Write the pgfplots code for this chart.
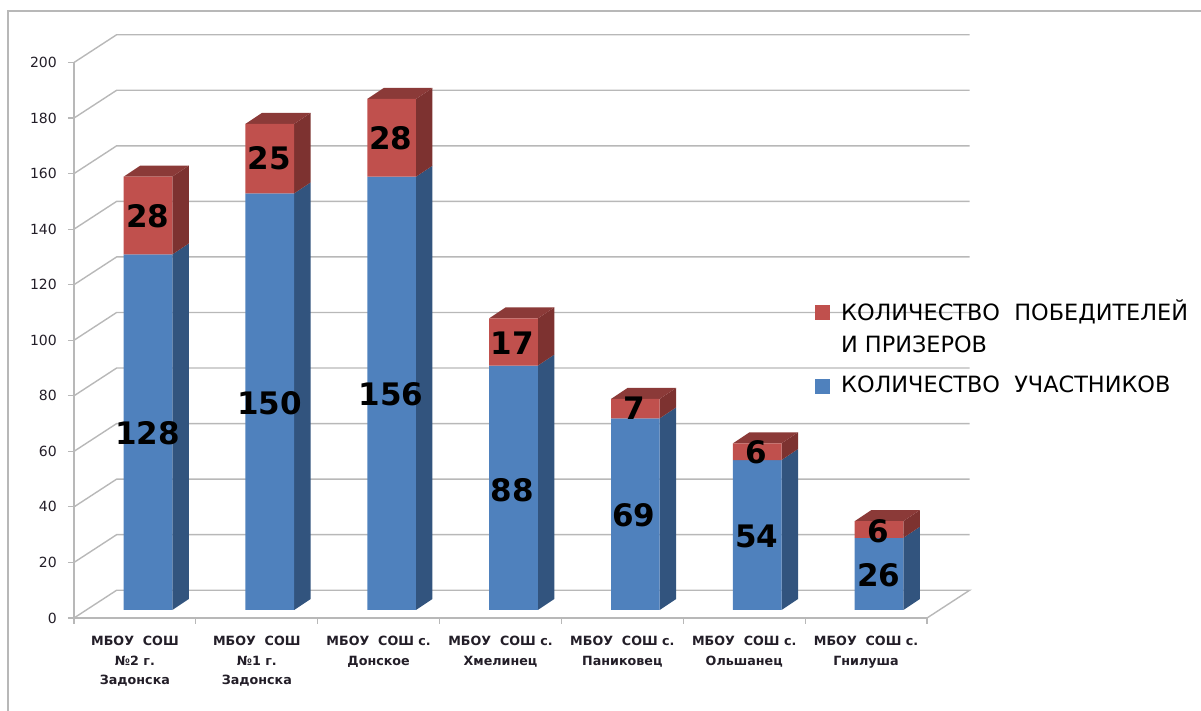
\documentclass[border=0pt]{standalone}
\usepackage{fontspec}
\setmainfont{DejaVu Sans}
\usepackage{pgfplots}
\pgfplotsset{compat=1.18}
\definecolor{wallgray}{RGB}{184,184,184}
\definecolor{bluefront}{RGB}{79,129,189}
\definecolor{blueside}{RGB}{50,84,126}
\definecolor{redfront}{RGB}{192,80,77}
\definecolor{redside}{RGB}{125,50,48}
\definecolor{redtop}{RGB}{139,58,56}
\definecolor{labeltext}{RGB}{35,30,40}

% side and top faces of one bar: category centre, blue value, red value
\newcommand{\barfaces}[3]{%
  \pgfmathsetmacro\xr{#1+0.3065}%
  \pgfmathsetmacro\xb{#1+0.3065+0.1354}%
  \pgfmathsetmacro\xl{#1+0.3065-0.3995}%
  \pgfmathsetmacro\xc{#1+0.3065-0.3995+0.1354}%
  \pgfmathsetmacro\ya{2.88}%
  \pgfmathsetmacro\yb{2.88+#2}%
  \pgfmathsetmacro\yc{2.88+#2+#3}%
  \pgfmathsetmacro\yaa{2.88+3.96}%
  \pgfmathsetmacro\ybb{2.88+#2+3.96}%
  \pgfmathsetmacro\ycc{2.88+#2+#3+3.96}%
  \addplot[face,fill=blueside] coordinates {(\xr,\ya)(\xb,\yaa)(\xb,\ybb)(\xr,\yb)};
  \addplot[face,fill=redside] coordinates {(\xr,\yb)(\xb,\ybb)(\xb,\ycc)(\xr,\yc)};
  \addplot[face,fill=redtop] coordinates {(\xl,\yc)(\xr,\yc)(\xb,\ycc)(\xc,\ycc)};
}

\begin{document}
\begin{tikzpicture}[x=1pt,y=1pt]
\path[use as bounding box] (-74,-93) rectangle (1127,618);
\draw[wallgray,line width=1.4pt] (-66,-93) -- (-66,607) -- (1127,607);
\begin{axis}[
  at={(0pt,0pt)},
  anchor=south west,
  scale only axis,
  width=853pt,
  height=555.5pt,
  xmin=0, xmax=7,
  ymin=0, ymax=200,
  clip=false,
  axis x line=bottom,
  axis y line=left,
  axis line style={wallgray,line width=1.4pt,-},
  ytick={0,20,...,200},
  xtick={0.5,1.5,2.5,3.5,4.5,5.5,6.5},
  minor xtick={0,1,...,7},
  tick align=outside,
  major tick length=6pt,
  minor tick length=6pt,
  every tick/.style={wallgray,line width=1.2pt},
  every major x tick/.style={draw=none},
  xticklabels={
    {МБОУ\ \ СОШ\\№2 г.\\Задонска},
    {МБОУ\ \ СОШ\\№1 г.\\Задонска},
    {МБОУ\ \ СОШ с.\\Донское},
    {МБОУ\ \ СОШ с.\\Хмелинец},
    {МБОУ\ \ СОШ с.\\Паниковец},
    {МБОУ\ \ СОШ с.\\Ольшанец},
    {МБОУ\ \ СОШ с.\\Гнилуша}},
  x tick label style={align=center,font=\fontsize{12.7}{19.5}\selectfont\bfseries,
    text=labeltext,inner sep=0pt,yshift=-12pt},
  y tick label style={font=\fontsize{14}{16}\selectfont,text=labeltext,inner sep=0pt,xshift=-11pt},
  /pgf/number format/assume math mode=true,
  face/.style={forget plot,draw=none,sharp plot,stack plots=false,mark=none},
  wall/.style={forget plot,wallgray,line width=1.4pt,sharp plot,stack plots=false,mark=none},
  legend style={at={(axis cs:6.08,115.3)},anchor=north west,draw=none,fill=none,
    font=\fontsize{22.4}{32}\selectfont,text=black,row sep=50pt,column sep=9pt,inner sep=0pt},
  legend cell align=left,
  reverse legend,
  squarekey/.style={legend image code/.code={\fill[##1] (0pt,-17pt) rectangle (15pt,-2pt);}},
]
% back wall lines
\addplot[wall] coordinates {(0,0)(0.35,10)(7.35,10)(7,0)};
\addplot[wall] coordinates {(0,20)(0.35,30)(7.35,30)};
\addplot[wall] coordinates {(0,40)(0.35,50)(7.35,50)};
\addplot[wall] coordinates {(0,60)(0.35,70)(7.35,70)};
\addplot[wall] coordinates {(0,80)(0.35,90)(7.35,90)};
\addplot[wall] coordinates {(0,100)(0.35,110)(7.35,110)};
\addplot[wall] coordinates {(0,120)(0.35,130)(7.35,130)};
\addplot[wall] coordinates {(0,140)(0.35,150)(7.35,150)};
\addplot[wall] coordinates {(0,160)(0.35,170)(7.35,170)};
\addplot[wall] coordinates {(0,180)(0.35,190)(7.35,190)};
\addplot[wall] coordinates {(0,200)(0.35,210)(7.35,210)};

\barfaces{0.5}{128}{28}
\barfaces{1.5}{150}{25}
\barfaces{2.5}{156}{28}
\barfaces{3.5}{88}{17}
\barfaces{4.5}{69}{7}
\barfaces{5.5}{54}{6}
\barfaces{6.5}{26}{6}

% участники
\addplot[ybar stacked,squarekey,bar width=48.7pt,bar shift=13pt,yshift=8pt,fill=bluefront,draw=none] coordinates {
  (0.5,128) (1.5,150) (2.5,156) (3.5,88) (4.5,69) (5.5,54) (6.5,26)};
% победители и призеры
\addplot[ybar stacked,squarekey,bar width=48.7pt,bar shift=13pt,yshift=8pt,fill=redfront,draw=none] coordinates {
  (0.5,28) (1.5,25) (2.5,28) (3.5,17) (4.5,7) (5.5,6) (6.5,6)};

% value labels
\addplot[forget plot,stack plots=false,sharp plot,draw=none,mark=none,
  nodes near coords,point meta=explicit symbolic,
  every node near coord/.style={anchor=center,inner sep=0pt,text=black,
    font=\fontsize{31}{31}\selectfont\bfseries}]
  coordinates {
  (0.603,66.6)[128] (1.604,77.4)[150] (2.600,80.6)[156] (3.597,46.1)[88]
  (4.594,37.1)[69] (5.603,29.5)[54] (6.604,15.5)[26]
  (0.607,144.7)[28] (1.604,165.6)[25] (2.600,172.8)[28] (3.597,99)[17]
  (4.594,75.6)[7] (5.603,59.8)[6] (6.604,31.3)[6]};

\legend{КОЛИЧЕСТВО\ \ УЧАСТНИКОВ,{\parbox[t]{360pt}{КОЛИЧЕСТВО\ \ ПОБЕДИТЕЛЕЙ\\И ПРИЗЕРОВ}}}
\end{axis}
\end{tikzpicture}
\end{document}
